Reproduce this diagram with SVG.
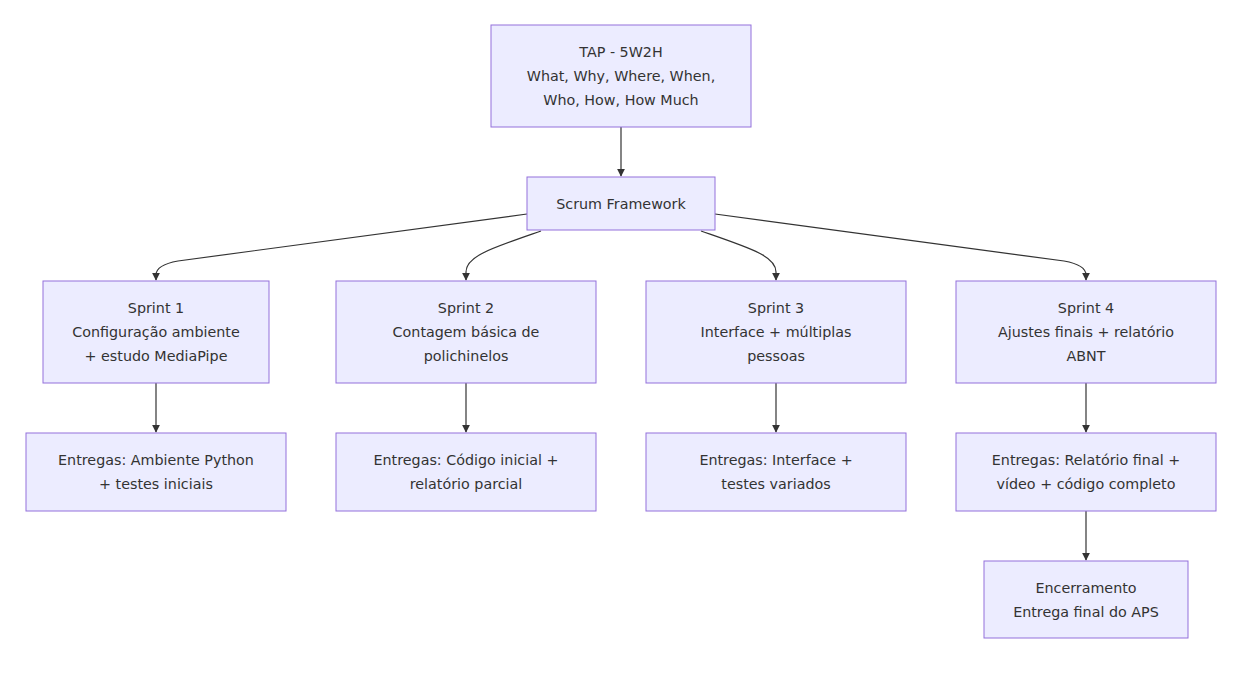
<svg xmlns="http://www.w3.org/2000/svg" width="1241" height="675" viewBox="0 0 1241 675">
<style>
.n rect{fill:#ECECFF;stroke:#9370DB;stroke-width:1}
.n text{font-family:"DejaVu Sans",Verdana,sans-serif;font-size:14.3px;fill:#333;text-anchor:middle;dominant-baseline:central}
.e path{fill:none;stroke:#333;stroke-width:1.2}
</style>
<defs>
<marker id="ah" viewBox="0 0 10 10" refX="9" refY="5" markerWidth="8" markerHeight="8" markerUnits="userSpaceOnUse" orient="auto">
<path d="M0,0 L10,5 L0,10 z" fill="#333"/>
</marker>
</defs>
<rect width="1241" height="675" fill="#fff"/>
<g id="connectors" class="e">
<path d="M621,127 L621,176" marker-end="url(#ah)"/>
<path d="M527,214 L178,261 Q156,265 156,275 L156,280" marker-end="url(#ah)"/>
<path d="M541,231 C492,248 466,256 466,272 L466,280" marker-end="url(#ah)"/>
<path d="M701,231 C750,248 776,256 776,272 L776,280" marker-end="url(#ah)"/>
<path d="M715,214 L1064,261 Q1086,265 1086,275 L1086,280" marker-end="url(#ah)"/>
<path d="M156,383 L156,432" marker-end="url(#ah)"/>
<path d="M466,383 L466,432" marker-end="url(#ah)"/>
<path d="M776,383 L776,432" marker-end="url(#ah)"/>
<path d="M1086,383 L1086,432" marker-end="url(#ah)"/>
<path d="M1086,511 L1086,560" marker-end="url(#ah)"/>
</g>
<g id="tap" class="n"><rect x="491" y="25" width="260" height="102"/>
<text x="621" y="52">TAP - 5W2H</text><text x="621" y="76">What, Why, Where, When,</text><text x="621" y="100">Who, How, How Much</text></g>
<g id="scrum" class="n"><rect x="527" y="177" width="188" height="53"/>
<text x="621" y="204">Scrum Framework</text></g>
<g id="sprint1" class="n"><rect x="43" y="281" width="226" height="102"/>
<text x="156" y="308">Sprint 1</text><text x="156" y="332">Configuração ambiente</text><text x="156" y="356">+ estudo MediaPipe</text></g>
<g id="sprint2" class="n"><rect x="336" y="281" width="260" height="102"/>
<text x="466" y="308">Sprint 2</text><text x="466" y="332">Contagem básica de</text><text x="466" y="356">polichinelos</text></g>
<g id="sprint3" class="n"><rect x="646" y="281" width="260" height="102"/>
<text x="776" y="308">Sprint 3</text><text x="776" y="332">Interface + múltiplas</text><text x="776" y="356">pessoas</text></g>
<g id="sprint4" class="n"><rect x="956" y="281" width="260" height="102"/>
<text x="1086" y="308">Sprint 4</text><text x="1086" y="332">Ajustes finais + relatório</text><text x="1086" y="356">ABNT</text></g>
<g id="entregas1" class="n"><rect x="26" y="433" width="260" height="78"/>
<text x="156" y="460">Entregas: Ambiente Python</text><text x="156" y="484">+ testes iniciais</text></g>
<g id="entregas2" class="n"><rect x="336" y="433" width="260" height="78"/>
<text x="466" y="460">Entregas: Código inicial +</text><text x="466" y="484">relatório parcial</text></g>
<g id="entregas3" class="n"><rect x="646" y="433" width="260" height="78"/>
<text x="776" y="460">Entregas: Interface +</text><text x="776" y="484">testes variados</text></g>
<g id="entregas4" class="n"><rect x="956" y="433" width="260" height="78"/>
<text x="1086" y="460">Entregas: Relatório final +</text><text x="1086" y="484">vídeo + código completo</text></g>
<g id="encerramento" class="n"><rect x="984" y="561" width="204" height="77"/>
<text x="1086" y="588">Encerramento</text><text x="1086" y="612">Entrega final do APS</text></g>
</svg>
